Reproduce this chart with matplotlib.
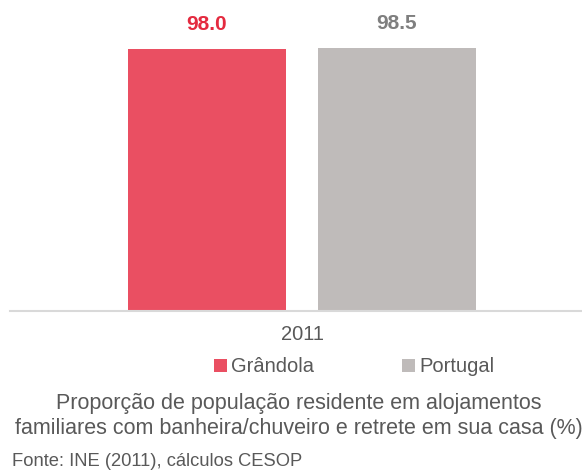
import matplotlib
matplotlib.use("Agg")
import matplotlib.pyplot as plt
from matplotlib.patches import Patch

plt.rcParams.update({"font.family": ["Liberation Sans", "DejaVu Sans"]})

# ---- data ----
years = ["2011"]
series = ["Grândola", "Portugal"]
values = [98.0, 98.5]
bar_colors = ["#EA4F62", "#BFBBBA"]
label_colors = ["#E42A3F", "#7F7F7F"]
title = ("Proporção de população residente em alojamentos\n"
         "familiares com banheira/chuveiro e retrete em sua casa (%)")
source = "Fonte: INE (2011), cálculos CESOP"

TXT = "#595959"
W, H = 582, 470
fig = plt.figure(figsize=(W / 100, H / 100), dpi=100)
ax = fig.add_axes([10 / W, 1 - 311 / H, 572 / W, 291 / H])

bw = 0.276
offs = [-0.166, 0.166]
for i, (s, v) in enumerate(zip(series, values)):
    b = ax.bar(0 + offs[i], v, width=bw, color=bar_colors[i], label=s)
    ax.annotate(f"{v:.1f}", (0 + offs[i], v), xytext=(0, 11), textcoords="offset points",
                ha="center", va="bottom", fontsize=15, fontweight="bold",
                color=label_colors[i], annotation_clip=False)

ax.set_xlim(-0.5105, 0.4895)
ax.set_ylim(0, 109)
ax.set_xticks([0])
ax.set_xticklabels(years, fontsize=14.5, color=TXT)
ax.tick_params(axis="x", length=0, pad=10)
ax.set_yticks([])
for sp in ["top", "right", "left"]:
    ax.spines[sp].set_visible(False)
ax.spines["bottom"].set_color("#D9D9D9")
ax.spines["bottom"].set_linewidth(1.5)

handles = [Patch(facecolor=c, edgecolor="none") for c in bar_colors]
fig.legend(handles, series, loc="center", bbox_to_anchor=(354 / W, 1 - 367 / H),
           ncol=2, frameon=False, fontsize=14.5, handlelength=0.65, handleheight=0.65,
           handletextpad=0.2, columnspacing=4.4, labelcolor=TXT)

fig.text(299 / W, 1 - 416 / H, title, ha="center", va="center", fontsize=15.5,
         color=TXT, linespacing=1.2)
fig.text(12 / W, 1 - 461 / H, source, ha="left", va="center", fontsize=13.2, color=TXT)

fig.savefig("out.png", dpi=100, facecolor="white")
